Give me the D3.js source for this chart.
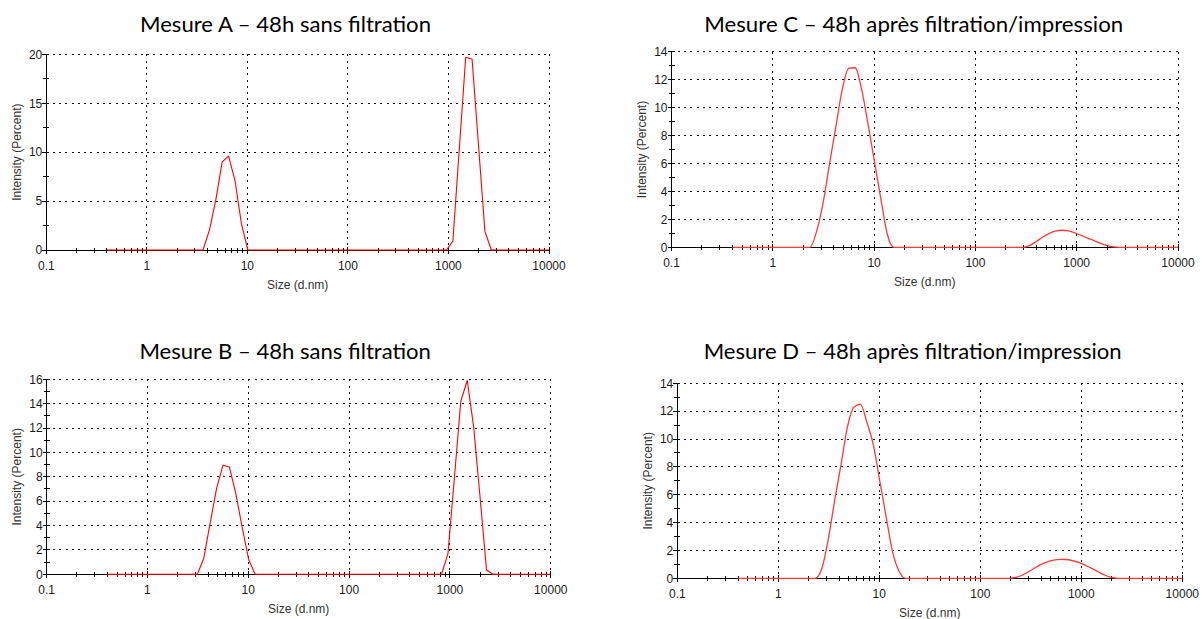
<!DOCTYPE html>
<html>
<head>
<meta charset="utf-8">
<script src="https://cdn.jsdelivr.net/npm/d3@7"></script>
<style>
  html, body { margin: 0; padding: 0; background: #fff; }
  svg { display: block; }
</style>
</head>
<body>
<svg id="chart" width="1203" height="619"></svg>
<script>
// ---------- DATA ----------
// Size bins (d.nm) of the DLS size distribution
const sizes = [
  0.4, 0.4632, 0.5365, 0.6213, 0.7195, 0.8332, 0.9649, 1.117, 1.294, 1.499,
  1.736, 2.010, 2.328, 2.696, 3.122, 3.615, 4.187, 4.849, 5.615, 6.503,
  7.531, 8.721, 10.10, 11.70, 13.54, 15.69, 18.17, 21.04, 24.36, 28.21,
  32.67, 37.84, 43.82, 50.75, 58.77, 68.06, 78.82, 91.28, 105.7, 122.4,
  141.8, 164.2, 190.1, 220.2, 255.0, 295.3, 342.0, 396.1, 458.7, 531.2,
  615.1, 712.4, 825.0, 955.4, 1106, 1281, 1484, 1718, 1990, 2305,
  2669, 3091, 3580, 4145, 4801, 5560, 6439, 7456, 8635, 10000
];

// Intensity (Percent) per bin
const intensityA = [
  0,0,0,0,0,0,0,0,0,0,
  0,0,0,0,0,0,2.0,5.1,9.0,9.6,
  7.1,2.7,0,0,0,0,0,0,0,0,
  0,0,0,0,0,0,0,0,0,0,
  0,0,0,0,0,0,0,0,0,0,
  0,0,0,0,0.9,10.3,19.7,19.5,10.7,1.9,
  0,0,0,0,0,0,0,0,0,0
];
const intensityB = [
  0,0,0,0,0,0,0,0,0,0,
  0,0,0,0,0,1.3,4.2,7.05,8.95,8.8,
  6.6,3.8,1.2,0,0,0,0,0,0,0,
  0,0,0,0,0,0,0,0,0,0,
  0,0,0,0,0,0,0,0,0,0,
  0,0,0,1.7,7.9,14.2,15.9,12.1,6.3,0.35,
  0,0,0,0,0,0,0,0,0,0
];
const intensityC = [
  0,0,0,0,0,0,0,0,0,0,
  0,0,0,1.1,3.1,5.9,8.6,11.3,12.8,12.85,
  11.3,8.8,6.1,3.4,0.9,0,0,0,0,0,
  0,0,0,0,0,0,0,0,0,0,
  0,0,0,0,0,0,0.12,0.4,0.72,0.98,
  1.15,1.22,1.18,1.04,0.85,0.66,0.48,0.28,0.12,0.03,
  0,0,0,0,0,0,0,0,0,0
];
const intensityD = [
  0,0,0,0,0,0,0,0,0,0,
  0,0,0,0.7,2.8,5.6,8.2,10.9,12.3,12.5,
  11.2,9.6,7.0,4.4,1.9,0.5,0,0,0,0,
  0,0,0,0,0,0,0,0,0,0,
  0,0,0,0.05,0.2,0.45,0.72,0.98,1.18,1.3,
  1.36,1.35,1.26,1.12,0.92,0.7,0.45,0.22,0.07,0,
  0,0,0,0,0,0,0,0,0,0
];

const titles = [
  "Mesure A \u2013 48h sans filtration",
  "Mesure B \u2013 48h sans filtration",
  "Mesure C \u2013 48h apr\u00e8s filtration/impression",
  "Mesure D \u2013 48h apr\u00e8s filtration/impression"
];

const xTickValues = [0.1, 1, 10, 100, 1000, 10000];
const xTickLabels = ["0.1", "1", "10", "100", "1000", "10000"];
const yTicksA = [0, 5, 10, 15, 20];
const yTicksB = [0, 2, 4, 6, 8, 10, 12, 14, 16];
const yTicksC = [0, 2, 4, 6, 8, 10, 12, 14];
const yTicksD = [0, 2, 4, 6, 8, 10, 12, 14];
const xAxisTitle = "Size (d.nm)";
const yAxisTitle = "Intensity (Percent)";

// ---------- LAYOUT ----------
const panels = [
  { title: titles[0], values: intensityA, yTicks: yTicksA, yMinorStep: 2.5,
    left: 46.3, right: 549, top: 54.3, bottom: 250, titleX: 285.5, titleY: 31.7, titleW: 291, smooth: false },
  { title: titles[1], values: intensityB, yTicks: yTicksB, yMinorStep: 1,
    left: 46.6, right: 550.8, top: 379.3, bottom: 574.3, titleX: 285.2, titleY: 359.4, titleW: 291.5, smooth: false },
  { title: titles[2], values: intensityC, yTicks: yTicksC, yMinorStep: 1,
    left: 671.5, right: 1178, top: 51.7, bottom: 247.3, titleX: 913.7, titleY: 31.7, titleW: 419, smooth: true },
  { title: titles[3], values: intensityD, yTicks: yTicksD, yMinorStep: 1,
    left: 677.3, right: 1182.3, top: 383.3, bottom: 578.3, titleX: 912.7, titleY: 359.4, titleW: 418, smooth: true }
];

const svg = d3.select("#chart");

panels.forEach(p => {
  const yMax = d3.max(p.yTicks);
  const x = d3.scaleLog().domain([0.1, 10000]).range([p.left, p.right]);
  const y = d3.scaleLinear().domain([0, yMax]).range([p.bottom, p.top]);
  const g = svg.append("g");

  // dotted grid
  const grid = g.append("g")
    .attr("stroke", "#111").attr("stroke-width", 1)
    .attr("stroke-dasharray", "2,4.3").attr("shape-rendering", "crispEdges");
  xTickValues.filter(v => v > 0.1).forEach(v => {
    grid.append("line").attr("x1", x(v)).attr("x2", x(v))
      .attr("y1", y(yMax)).attr("y2", y(0));
  });
  p.yTicks.filter(v => v > 0).forEach(v => {
    grid.append("line").attr("x1", x(0.1)).attr("x2", x(10000))
      .attr("y1", y(v)).attr("y2", y(v));
  });

  // axes lines
  const ax = g.append("g").attr("stroke", "#000").attr("stroke-width", 1)
    .attr("shape-rendering", "crispEdges");
  ax.append("line").attr("x1", x(0.1)).attr("x2", x(0.1)).attr("y1", y(yMax)).attr("y2", y(0));
  ax.append("line").attr("x1", x(0.1)).attr("x2", x(10000)).attr("y1", y(0)).attr("y2", y(0));

  // y ticks (minor + major)
  const yMinor = d3.range(0, yMax + 1e-9, p.yMinorStep);
  yMinor.forEach(v => {
    const major = p.yTicks.includes(v);
    ax.append("line").attr("x1", x(0.1) - (major ? 4 : 3)).attr("x2", x(0.1) + 3)
      .attr("y1", y(v)).attr("y2", y(v));
  });
  // x ticks (log minor + major)
  x.ticks().forEach(v => {
    const major = xTickValues.some(t => Math.abs(t - v) / t < 1e-6);
    ax.append("line").attr("x1", x(v)).attr("x2", x(v))
      .attr("y1", y(0) - (major ? 3 : 2)).attr("y2", y(0) + (major ? 4 : 3));
  });

  // data line
  const line = d3.line()
    .x((d, i) => x(sizes[i]))
    .y(d => y(d))
    .curve(p.smooth ? d3.curveMonotoneX : d3.curveLinear);
  g.append("path").datum(p.values)
    .attr("fill", "none")
    .attr("stroke", p.smooth ? "#ff3a3a" : "#ff0000")
    .attr("stroke-width", p.smooth ? 1.3 : 1.1)
    .attr("stroke-linejoin", "round")
    .attr("d", line);

  // tick labels
  const lbl = g.append("g").attr("font-family", "'Liberation Sans', Arial, sans-serif")
    .attr("font-size", 12).attr("fill", "#1a1a1a");
  xTickValues.forEach((v, i) => {
    lbl.append("text").attr("x", x(v)).attr("y", y(0) + 19.7)
      .attr("text-anchor", "middle").text(xTickLabels[i]);
  });
  p.yTicks.forEach(v => {
    lbl.append("text").attr("x", x(0.1) - 4).attr("y", y(v))
      .attr("dy", "0.36em").attr("text-anchor", "end").text(v);
  });

  // axis titles
  g.append("text")
    .attr("x", (p.left + p.right) / 2).attr("y", y(0) + 38.5)
    .attr("text-anchor", "middle")
    .attr("font-family", "'Liberation Sans', Arial, sans-serif")
    .attr("font-size", 12).attr("fill", "#333")
    .text(xAxisTitle);
  g.append("text")
    .attr("transform", `translate(${p.left - 29.5},${(p.top + p.bottom) / 2}) rotate(-90)`)
    .attr("dy", "0.36em")
    .attr("text-anchor", "middle")
    .attr("font-family", "'Liberation Sans', Arial, sans-serif")
    .attr("font-size", 12).attr("fill", "#333")
    .text(yAxisTitle);

  // title
  g.append("text")
    .attr("x", p.titleX - p.titleW / 2).attr("y", p.titleY)
    .attr("font-family", "Lato, 'Open Sans', sans-serif")
    .attr("font-size", 21.5).attr("fill", "#000")
    .attr("textLength", p.titleW).attr("lengthAdjust", "spacingAndGlyphs")
    .text(p.title);
});
</script>
</body>
</html>
